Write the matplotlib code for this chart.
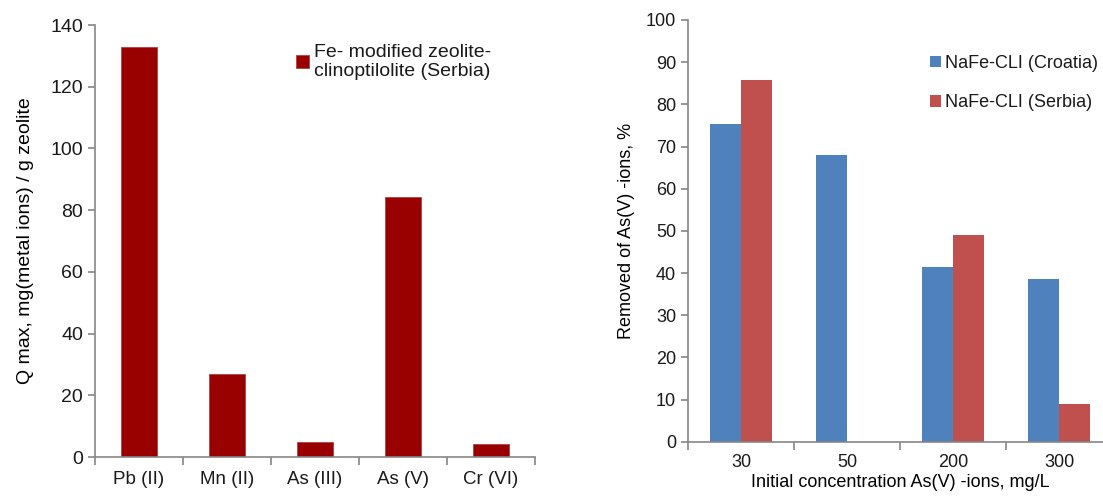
import numpy as np
import matplotlib.pyplot as plt

# Left: Q max per metal ion for Fe-modified zeolite (Serbia)
metals = ["Pb (II)", "Mn (II)", "As (III)", "As (V)", "Cr (VI)"]
qmax = [133, 27, 4.8, 84.2, 4.3]

# Right: removal of As(V) vs initial concentration
concs = ["30", "50", "200", "300"]
croatia = [75.4, 67.9, 41.5, 38.5]
serbia = [85.8, 0, 49.0, 8.9]

plt.rcParams["font.family"] = ["Liberation Sans", "DejaVu Sans"]
plt.rcParams["text.color"] = "#1a1a1a"

AXIS = "#868686"


def style(ax, size):
    for s in ("top", "right"):
        ax.spines[s].set_visible(False)
    for s in ("left", "bottom"):
        ax.spines[s].set_color(AXIS)
        ax.spines[s].set_linewidth(1.2)
    ax.tick_params(colors=AXIS, labelcolor="#1a1a1a", length=5, width=1.2,
                   labelsize=size)


fig = plt.figure(figsize=(11.03, 4.98), dpi=100)

# left panel
ax1 = fig.add_axes([95 / 1103, 1 - 457 / 498, 440 / 1103, 432 / 498])
x1 = np.arange(len(metals))
ax1.bar(x1, qmax, width=0.41, color="#990000", edgecolor="#b04040",
        linewidth=0.6, label="Fe- modified zeolite-\nclinoptilolite (Serbia)")
ax1.set_xlim(-0.5, len(metals) - 0.5)
ax1.set_ylim(0, 140)
ax1.set_yticks(range(0, 141, 20))
ax1.set_xticks(x1)
ax1.set_xticklabels(metals)
ax1.set_xticks(np.arange(len(metals) + 1) - 0.5, minor=True)
style(ax1, 14)
ax1.tick_params(axis="x", which="major", length=0, pad=10, labelsize=13.5)
ax1.tick_params(axis="x", which="minor", length=6, color=AXIS, width=1.2)
ax1.set_ylabel("Q max, mg(metal ions) / g zeolite", fontsize=14, labelpad=12)
ax1.legend(loc="upper left", bbox_to_anchor=(0.44, 0.975), frameon=False,
           fontsize=14, handlelength=0.65, handleheight=0.65,
           handletextpad=0.25, borderaxespad=0)

# right panel
ax2 = fig.add_axes([688 / 1103, 1 - 441.7 / 498, 424 / 1103, 421.7 / 498])
x2 = np.arange(len(concs))
w = 0.29
ax2.bar(x2 - w / 2, croatia, width=w, color="#4F81BD", label="NaFe-CLI (Croatia)")
ax2.bar(x2 + w / 2, serbia, width=w, color="#C0504D", label="NaFe-CLI (Serbia)")
ax2.set_xlim(-0.5, len(concs) - 0.5)
ax2.set_ylim(0, 100)
ax2.set_yticks(range(0, 101, 10))
ax2.set_xticks(x2)
ax2.set_xticklabels(concs)
ax2.set_xticks(np.arange(len(concs) + 1) - 0.5, minor=True)
style(ax2, 13)
ax2.tick_params(axis="x", which="major", length=0, pad=9)
ax2.tick_params(axis="x", which="minor", length=6, color=AXIS, width=1.2)
ax2.set_ylabel("Removed of As(V) -ions, %", fontsize=13, labelpad=8)
ax2.set_xlabel("Initial concentration As(V) -ions, mg/L", fontsize=13, labelpad=2)
ax2.legend(loc="upper left", bbox_to_anchor=(0.553, 0.935), frameon=False,
           fontsize=13, handlelength=0.6, handleheight=0.6,
           handletextpad=0.25, labelspacing=1.25, borderaxespad=0)

fig.savefig("out.png", dpi=100)
